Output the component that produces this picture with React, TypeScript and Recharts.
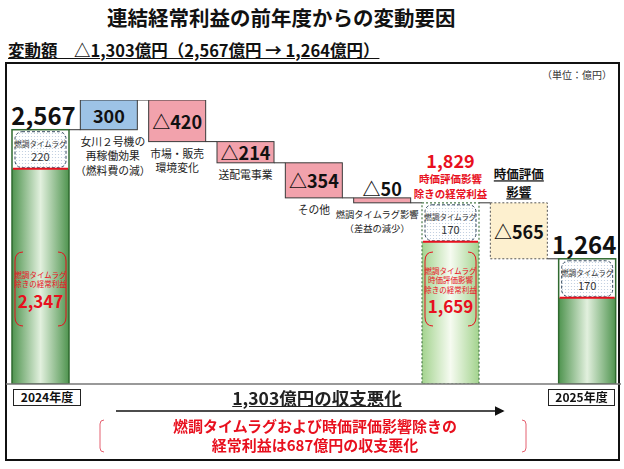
import React from "react";
import { BarChart, Bar, XAxis, YAxis, LabelList, ReferenceLine } from "recharts";

// 連結経常利益の変動要因（単位：億円）
const categories = [
  "2024年度",
  "女川2号機再稼働",
  "市場・販売環境変化",
  "送配電事業",
  "その他",
  "燃調タイムラグ影響",
  "時価評価影響除き",
  "時価評価影響",
  "2025年度",
];
const amounts = [2567, 300, -420, -214, -354, -50, 1829, -565, 1264];
const kinds = ["total", "up", "down", "down", "down", "down", "subtotal", "valuation", "total"];
const valueLabels = ["2,567", "300", "△420", "△214", "△354", "△50", "1,829", "△565", "1,264"];
const factorLabels = [
  [],
  ["女川２号機の", "再稼働効果", "（燃料費の減）"],
  ["市場・販売", "環境変化"],
  ["送配電事業"],
  ["その他"],
  ["燃調タイムラグ影響", "（差益の減少）"],
  [],
  [],
  [],
];
const timeLag = ["220", "", "", "", "", "", "170", "", "170"];
const adjustedLabels = [
  ["燃調タイムラグ", "除きの経常利益"],
  [],
  [],
  [],
  [],
  [],
  ["燃調タイムラグ", "時価評価影響", "除きの経常利益"],
  [],
  [],
];
const adjustedValues = ["2,347", "", "", "", "", "", "1,659", "", ""];

let running = 0;
const data = categories.map((name, i) => {
  const v = amounts[i];
  let range: [number, number];
  if (kinds[i] === "total" || kinds[i] === "subtotal") {
    range = [0, v];
    running = v;
  } else {
    const next = running + v;
    range = [Math.min(running, next), Math.max(running, next)];
    running = next;
  }
  return { name, range };
});

const W = 624;
const H = 469;
const MARGIN = { top: 100, right: 3, bottom: 85, left: 6 };
const BAND = (W - MARGIN.left - MARGIN.right) / categories.length;
const INSET = 36;
const FONT = '"Noto Sans CJK JP", "Noto Sans", sans-serif';
const RED = "#e8101e";

function rectOf(props: any) {
  const vb = props.viewBox && props.viewBox.width !== undefined ? props.viewBox : props;
  const top = Math.min(vb.y, vb.y + vb.height);
  return { x: vb.x, top, width: vb.width, h: Math.abs(vb.height) };
}

function WaterfallBar(props: any) {
  const { x, top, width, h } = rectOf(props);
  const i = categories.indexOf(props.payload.name);
  const kind = kinds[i];
  const right = x + width;
  const endY = kind === "down" || kind === "valuation" ? top + h : top;
  const connector =
    i < categories.length - 1 ? (
      <line x1={right} x2={right + (BAND - width)} y1={endY} y2={endY} stroke="#333" strokeWidth={1} />
    ) : null;

  let body;
  if (kind === "total" || kind === "subtotal") {
    const sub = kind === "subtotal";
    const split = top + INSET + 3;
    body = (
      <g>
        <rect x={x} y={top} width={width} height={h} fill="#fff" />
        <rect x={x} y={split} width={width} height={top + h - split} fill={sub ? "url(#gSub)" : "url(#gTotal)"} />
        <rect
          x={x}
          y={top}
          width={width}
          height={h}
          fill="none"
          stroke={sub ? "#4a7a4a" : "#2f6a2f"}
          strokeWidth={sub ? 1.2 : 1.5}
          strokeDasharray={sub ? "2 2" : undefined}
        />
      </g>
    );
  } else if (kind === "valuation") {
    body = <rect x={x} y={top} width={width} height={h} fill="#fdf0cf" stroke="#555" strokeWidth={1} strokeDasharray="2 2" />;
  } else {
    body = (
      <rect x={x} y={top} width={width} height={h} fill={kind === "up" ? "#9dc3e6" : "#f2a2ac"} stroke="#3a3a3a" strokeWidth={1} />
    );
  }
  return (
    <g>
      {body}
      {connector}
    </g>
  );
}

function Annotations(props: any) {
  const { x, top, width, h } = rectOf(props);
  const i = categories.indexOf(props.value);
  if (i < 0) return null;
  const kind = kinds[i];
  const cx = x + width / 2;
  const bottom = top + h;
  const els: React.ReactNode[] = [];

  if (kind === "total" || kind === "subtotal") {
    // 燃調タイムラグ inset
    els.push(
      <rect key="inset" x={x + 3} y={top + 2} width={width - 6} height={INSET} rx={7} fill="url(#dots)" stroke="#34495e" strokeWidth={1} strokeDasharray="3 2" />,
      <text key="lag1" x={cx} y={top + 2 + INSET / 2 - 6} fontSize={7.5} fill="#333" textAnchor="middle" dominantBaseline="central">
        燃調タイムラグ
      </text>,
      <text key="lag2" x={cx} y={top + 2 + INSET / 2 + 6} fontSize={11} fill="#333" textAnchor="middle" dominantBaseline="central">
        {timeLag[i]}
      </text>,
      <line key="red" x1={x + 1} x2={x + width - 1} y1={top + INSET + 3} y2={top + INSET + 3} stroke={RED} strokeWidth={2} />
    );
    const lines = adjustedLabels[i];
    if (lines.length) {
      const bt = bottom - 132;
      const bh = 74;
      const l = x + 3;
      const r = x + width - 3;
      els.push(
        <path key="bl" d={`M${l + 8} ${bt} Q${l} ${bt} ${l} ${bt + 9} L${l} ${bt + bh - 9} Q${l} ${bt + bh} ${l + 8} ${bt + bh}`} fill="none" stroke={RED} strokeWidth={1} />,
        <path key="br" d={`M${r - 8} ${bt} Q${r} ${bt} ${r} ${bt + 9} L${r} ${bt + bh - 9} Q${r} ${bt + bh} ${r - 8} ${bt + bh}`} fill="none" stroke={RED} strokeWidth={1} />
      );
      const start = lines.length === 2 ? bt + 22 : bt + 18;
      lines.forEach((t, k) => {
        els.push(
          <text key={`al${k}`} x={cx} y={start + k * 9.5} fontSize={7.5} fill={RED} textAnchor="middle" dominantBaseline="central">
            {t}
          </text>
        );
      });
      els.push(
        <text key="av" x={cx} y={start + lines.length * 9.5 + 7} fontSize={17} fontWeight="bold" fill={RED} textAnchor="middle" dominantBaseline="central">
          {adjustedValues[i]}
        </text>
      );
    }
    if (kind === "total") {
      els.push(
        <text key="v" x={cx + (i === 0 ? 3 : -3)} y={top - 15} fontSize={24} fontWeight="bold" fill="#111" textAnchor="middle" dominantBaseline="central">
          {valueLabels[i]}
        </text>
      );
    } else {
      els.push(
        <text key="v" x={cx} y={top - 43} fontSize={18} fontWeight="bold" fill={RED} textAnchor="middle" dominantBaseline="central">
          {valueLabels[i]}
        </text>,
        <text key="s1" x={cx} y={top - 24} fontSize={10.5} fontWeight="bold" fill={RED} textAnchor="middle" dominantBaseline="central">
          時価評価影響
        </text>,
        <text key="s2" x={cx} y={top - 9} fontSize={10.5} fontWeight="bold" fill={RED} textAnchor="middle" dominantBaseline="central">
          除きの経常利益
        </text>
      );
    }
  } else {
    const inside = h >= 18;
    els.push(
      <text key="v" x={cx} y={inside ? top + h / 2 : top - 10} fontSize={18} fontWeight="bold" fill="#111" textAnchor="middle" dominantBaseline="central">
        {valueLabels[i]}
      </text>
    );
    if (kind === "valuation") {
      els.push(
        <text key="t1" x={cx} y={top - 29} fontSize={12.5} fontWeight="bold" fill="#111" textAnchor="middle" dominantBaseline="central" style={{ textDecoration: "underline" }}>
          時価評価
        </text>,
        <text key="t2" x={cx} y={top - 11} fontSize={12.5} fontWeight="bold" fill="#111" textAnchor="middle" dominantBaseline="central" style={{ textDecoration: "underline" }}>
          影響
        </text>
      );
    }
    const small = factorLabels[i].some((t) => t.length > 7);
    const shift = i === 1 ? 4 : small ? -5 : 0;
    factorLabels[i].forEach((t, k) => {
      els.push(
        <text key={`f${k}`} x={cx + shift} y={bottom + 11 + k * 14.5} fontSize={small ? 9.3 : 10.8} fill="#222" textAnchor="middle" dominantBaseline="central">
          {t}
        </text>
      );
    });
  }
  return <g style={{ fontFamily: FONT }}>{els}</g>;
}

const abs = (style: React.CSSProperties): React.CSSProperties => ({ position: "absolute", whiteSpace: "nowrap", ...style });
const summaryLine: React.CSSProperties = { left: 0, width: 630, fontSize: 15, fontWeight: "bold", textAlign: "center", color: RED, lineHeight: "16px" };

export default function App() {
  return (
    <div style={{ position: "fixed", left: 0, top: 0, width: W, height: H, background: "#fff", fontFamily: FONT, color: "#111" }}>
      <div style={abs({ left: 107, top: 2, fontSize: 20.5, fontWeight: "bold" })}>連結経常利益の前年度からの変動要因</div>
      <div style={abs({ left: 8, top: 38, fontSize: 16.5, fontWeight: "bold", textDecoration: "underline" })}>
        変動額　△1,303億円（2,567億円 → 1,264億円）
      </div>
      <div style={abs({ left: 5, top: 62, width: 615, height: 399, border: "2px solid #111", boxSizing: "border-box" })} />
      <div style={abs({ right: 12, top: 67, fontSize: 10, color: "#333" })}>（単位：億円）</div>

      <div style={abs({ left: 0, top: 0 })}>
        <BarChart width={W} height={H} data={data} margin={MARGIN} barSize={57}>
          <defs>
            <linearGradient id="gTotal" x1="0" y1="0" x2="1" y2="0">
              <stop offset="0%" stopColor="#4f944f" />
              <stop offset="50%" stopColor="#e2f0de" />
              <stop offset="100%" stopColor="#4f944f" />
            </linearGradient>
            <linearGradient id="gSub" x1="0" y1="0" x2="1" y2="0">
              <stop offset="0%" stopColor="#a3d38e" />
              <stop offset="50%" stopColor="#f6fbf1" />
              <stop offset="100%" stopColor="#a3d38e" />
            </linearGradient>
            <pattern id="dots" width="3" height="3" patternUnits="userSpaceOnUse">
              <rect width="3" height="3" fill="#fff" />
              <circle cx="1.5" cy="1.5" r="0.6" fill="#b9c9dc" />
            </pattern>
          </defs>
          <XAxis dataKey="name" hide />
          <YAxis hide domain={[0, 2867]} allowDataOverflow />
          <ReferenceLine y={0} stroke="#777" strokeWidth={1.5} />
          <Bar dataKey="range" shape={WaterfallBar} isAnimationActive={false}>
            <LabelList dataKey="name" content={Annotations} />
          </Bar>
        </BarChart>
      </div>

      <div style={abs({ left: 13, top: 389, width: 68, height: 17, border: "1.5px solid #222", boxSizing: "border-box", fontSize: 12, fontWeight: "bold", textAlign: "center", lineHeight: "14px" })}>
        2024年度
      </div>
      <div style={abs({ left: 548, top: 389, width: 67, height: 17, border: "1.5px solid #222", boxSizing: "border-box", fontSize: 12, fontWeight: "bold", textAlign: "center", lineHeight: "14px" })}>
        2025年度
      </div>
      <div style={abs({ left: 0, width: 634, top: 385, fontSize: 17.5, fontWeight: "bold", textAlign: "center", textDecoration: "underline", color: "#222" })}>
        1,303億円の収支悪化
      </div>
      <svg width={W} height={H} style={{ position: "absolute", left: 0, top: 0, pointerEvents: "none" }}>
        <defs>
          <marker id="arrow" markerWidth="6" markerHeight="6" refX="5" refY="3" orient="auto">
            <path d="M0,0 L6,3 L0,6 Z" fill="#111" />
          </marker>
        </defs>
        <line x1={116} x2={503} y1={411} y2={411} stroke="#111" strokeWidth={1.6} markerEnd="url(#arrow)" />
        <path d="M104 420 Q100 420 100 424 L100 448 Q100 452 104 452" fill="none" stroke="#e46070" strokeWidth={1} />
        <path d="M522 420 Q526 420 526 424 L526 448 Q526 452 522 452" fill="none" stroke="#e46070" strokeWidth={1} />
      </svg>
      <div style={abs({ ...summaryLine, top: 418 })}>燃調タイムラグおよび時価評価影響除きの</div>
      <div style={abs({ ...summaryLine, top: 437 })}>経常利益は687億円の収支悪化</div>
    </div>
  );
}
